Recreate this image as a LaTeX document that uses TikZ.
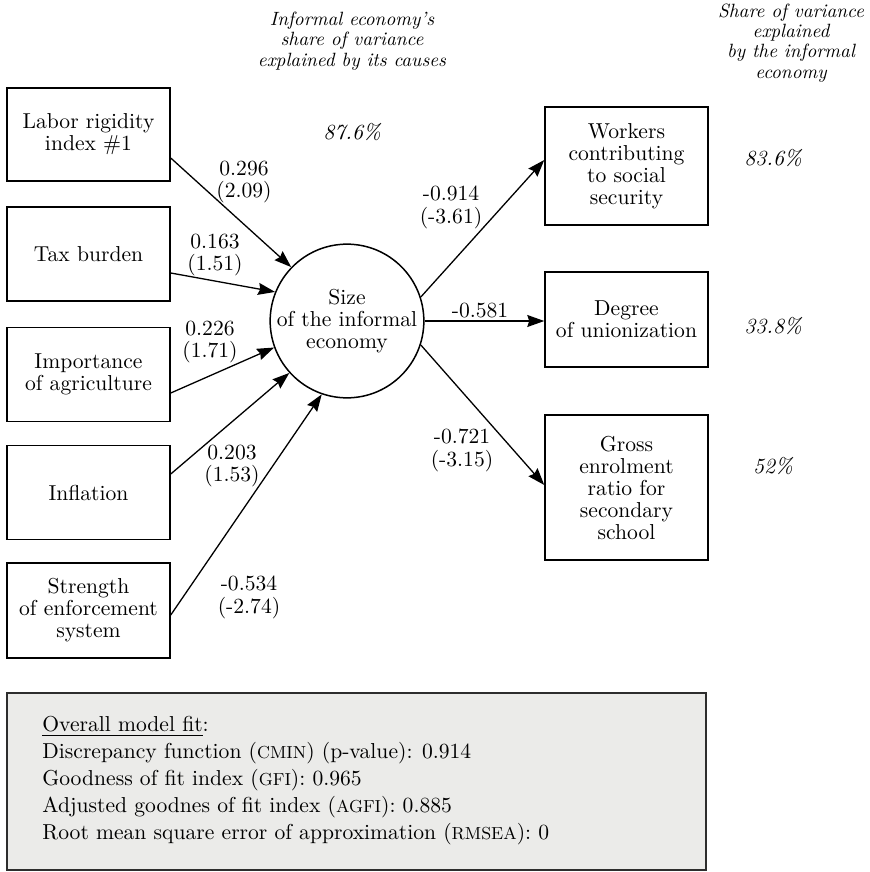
\documentclass[tikz,border=0pt]{standalone}
\usepackage{fontspec}
\usetikzlibrary{arrows.meta,calc}
\definecolor{boxgray}{RGB}{235,235,233}
\definecolor{boxedge}{RGB}{45,45,45}
\newcommand{\mysc}[1]{{\fontsize{8.7}{10}\selectfont #1}}
\begin{document}
\begin{tikzpicture}[x=0.5pt,y=-0.5pt,
  box/.style={draw=black, line width=0.75pt, minimum width=81.5pt, align=center, inner sep=0pt,
    font=\fontsize{10.8}{11}\selectfont},
  lbl/.style={align=center, inner sep=0pt, font=\fontsize{10.8}{11.4}\selectfont},
  pct/.style={inner sep=0pt, font=\fontsize{10.8}{12}\selectfont\itshape},
  ttl/.style={align=center, inner sep=0pt, font=\fontsize{9.6}{10.2}\selectfont\itshape},
  arr/.style={line width=0.65pt, -{Stealth[length=8.5pt,width=6pt,inset=1pt]}},
]
\useasboundingbox (0,0) rectangle (870,872);

% titles
\node[ttl] (t1) at (352,41) {Informal economy’s\\share of variance\\explained by its causes};
\node[ttl] (t2) at (791,43) {Share of variance\\explained\\by the informal\\economy};

% cause boxes
\node[box, minimum height=46.5pt] (b1) at (88.5,134.5) {Labor rigidity\\index \#1};
\node[box, minimum height=47pt] (b2) at (88.5,254) {Tax burden};
\node[box, minimum height=47pt] (b3) at (88.5,374.5) {Importance\\of agriculture};
\node[box, minimum height=47pt] (b4) at (88.5,492.5) {Inflation};
\node[box, minimum height=47.5pt] (b5) at (88.5,610.5) {Strength\\of enforcement\\system};

% latent variable
\node[draw=black, line width=0.75pt, circle, minimum size=76pt, inner sep=0pt, align=center,
  font=\fontsize{10.8}{11}\selectfont] (c) at (347,321) {Size\\of the informal\\economy};

% indicator boxes
\node[box, minimum height=59pt] (r1) at (626.5,166) {Workers\\contributing\\to social\\security};
\node[box, minimum height=47.5pt] (r2) at (626.5,319.5) {Degree\\of unionization};
\node[box, minimum height=72.5pt] (r3) at (626.5,487.5) {Gross\\enrolment\\ratio for\\secondary\\school};

% arrows into the latent variable
\draw[arr] ($(b1.east)+(0,23.5)$) -- (c.136.5);
\draw[arr] ($(b2.east)+(0,19)$) -- (c.158.7);
\draw[arr] ($(b3.east)+(0,18.5)$) -- (c.200);
\draw[arr] ($(b4.east)+(0,-18.5)$) -- (c.222.4);
\draw[arr] ($(b5.east)+(0,4.5)$) -- (c.251.8);

% arrows out of the latent variable
\draw[arr] (c.18.9) -- ($(r1.west)+(0,-6)$);
\draw[arr] (c.east) -- (c.east -| r2.west);
\draw[arr] (c.-18.9) -- ($(r3.west)+(0,-2.5)$);

% coefficient labels
\node[lbl] (l1) at (244,182) {0.296\\(2.09)};
\node[lbl] (l2) at (215,255) {0.163\\(1.51)};
\node[lbl] (l3) at (210,342) {0.226\\(1.71)};
\node[lbl] (l4) at (232,466) {0.203\\(1.53)};
\node[lbl] (l5) at (249,597) {-0.534\\(-2.74)};
\node[lbl] (l6) at (451,207) {-0.914\\(-3.61)};
\node[lbl] (l7) at (480,311) {-0.581};
\node[lbl] (l8) at (462,450) {-0.721\\(-3.15)};

% shares of variance
\node[pct] (p0) at (352,132) {87.6\%};
\node[pct] (p1) at (773,158) {83.6\%};
\node[pct] (p2) at (773,326) {33.8\%};
\node[pct] (p3) at (773,466) {52\%};

% overall model fit
\node[draw=boxedge, fill=boxgray, line width=0.7pt, minimum width=349.5pt, minimum height=88.5pt,
  inner sep=0pt] (fitbox) at (356.5,781.5) {};
\node[anchor=west, align=left, inner sep=0pt, font=\fontsize{10.8}{13.5}\selectfont] (fittext) at (42,781)
  {\underline{Overall model fit}:\\
   Discrepancy function (\mysc{CMIN}) (p-value): 0.914\\
   Goodness of fit index (\mysc{GFI}): 0.965\\
   Adjusted goodnes of fit index (\mysc{AGFI}): 0.885\\
   Root mean square error of approximation (\mysc{RMSEA}): 0};
\end{tikzpicture}
\end{document}
